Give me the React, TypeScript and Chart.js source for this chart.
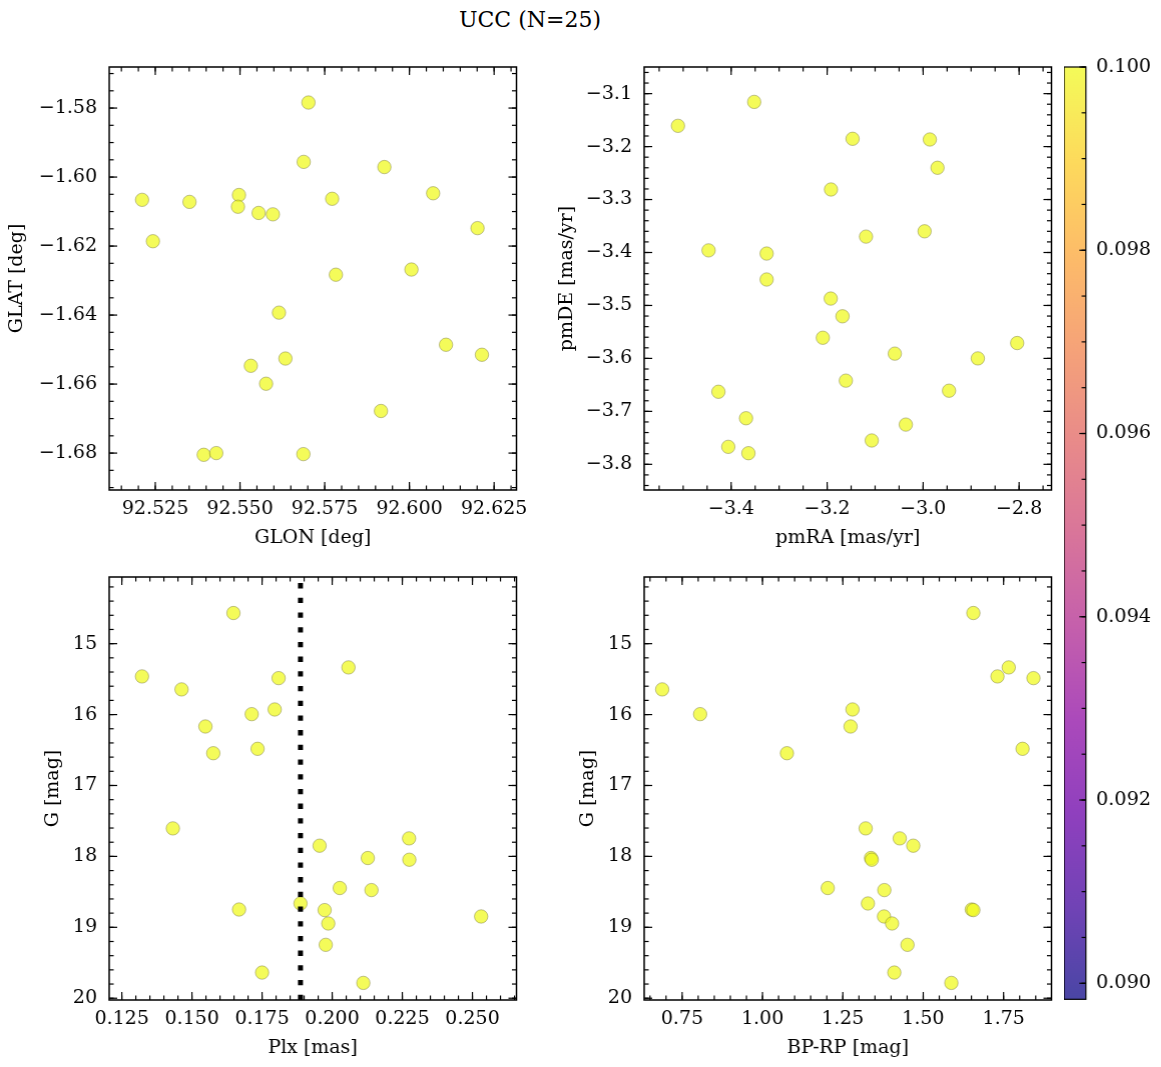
import React, { useEffect, useRef } from "react";
import { Chart, registerables } from "chart.js";

Chart.register(...registerables);

// ---------------- data ----------------
const glon = [92.5702, 92.5688, 92.5926, 92.5211, 92.5351, 92.5497, 92.5494, 92.5555, 92.5597, 92.5772, 92.607, 92.6201, 92.5243, 92.5783, 92.6006, 92.5615, 92.6108, 92.6214, 92.5634, 92.5532, 92.5577, 92.5916, 92.5393, 92.543, 92.5687];
const glat = [-1.5784, -1.5956, -1.5971, -1.6066, -1.6072, -1.6052, -1.6086, -1.6104, -1.6108, -1.6063, -1.6047, -1.6148, -1.6186, -1.6283, -1.6268, -1.6393, -1.6486, -1.6515, -1.6526, -1.6547, -1.6599, -1.6678, -1.6805, -1.68, -1.6803];

const pmra = [-3.5108, -3.352, -3.147, -2.986, -2.97, -3.192, -3.119, -2.997, -3.447, -3.326, -3.326, -3.1925, -3.168, -3.209, -3.059, -2.804, -2.886, -3.161, -2.946, -3.4265, -3.369, -3.036, -3.107, -3.406, -3.364];
const pmde = [-3.1608, -3.1156, -3.1853, -3.1866, -3.24, -3.281, -3.37, -3.36, -3.396, -3.402, -3.451, -3.487, -3.5205, -3.561, -3.591, -3.571, -3.6, -3.642, -3.661, -3.663, -3.713, -3.725, -3.755, -3.767, -3.779];

const gmag = [14.568, 15.335, 15.462, 15.486, 15.645, 15.994, 15.928, 16.168, 16.483, 16.545, 17.605, 17.746, 17.849, 18.023, 18.047, 18.446, 18.475, 18.664, 18.749, 18.757, 18.847, 18.946, 19.247, 19.638, 19.784];
const plx = [0.1648, 0.2058, 0.1322, 0.1809, 0.1463, 0.1713, 0.1795, 0.1548, 0.1734, 0.1576, 0.1432, 0.2274, 0.1955, 0.2127, 0.2275, 0.2027, 0.214, 0.1887, 0.1668, 0.1973, 0.2531, 0.1986, 0.1977, 0.175, 0.2111];
const bprp = [1.656, 1.766, 1.731, 1.843, 0.688, 0.806, 1.28, 1.274, 1.809, 1.076, 1.321, 1.427, 1.469, 1.3375, 1.34, 1.203, 1.379, 1.328, 1.651, 1.656, 1.378, 1.403, 1.451, 1.41, 1.5875];

const plxLine = 0.1887;

// tick values and labels
const glonTicks = [92.525, 92.55, 92.575, 92.6, 92.625];
const glonLabels = ["92.525", "92.550", "92.575", "92.600", "92.625"];
const glatTicks = [-1.58, -1.6, -1.62, -1.64, -1.66, -1.68];
const glatLabels = ["\u22121.58", "\u22121.60", "\u22121.62", "\u22121.64", "\u22121.66", "\u22121.68"];
const pmraTicks = [-3.4, -3.2, -3.0, -2.8];
const pmraLabels = ["\u22123.4", "\u22123.2", "\u22123.0", "\u22122.8"];
const pmdeTicks = [-3.1, -3.2, -3.3, -3.4, -3.5, -3.6, -3.7, -3.8];
const pmdeLabels = ["\u22123.1", "\u22123.2", "\u22123.3", "\u22123.4", "\u22123.5", "\u22123.6", "\u22123.7", "\u22123.8"];
const plxTicks = [0.125, 0.15, 0.175, 0.2, 0.225, 0.25];
const plxLabels = ["0.125", "0.150", "0.175", "0.200", "0.225", "0.250"];
const gTicks = [15, 16, 17, 18, 19, 20];
const gLabels = ["15", "16", "17", "18", "19", "20"];
const bprpTicks = [0.75, 1.0, 1.25, 1.5, 1.75];
const bprpLabels = ["0.75", "1.00", "1.25", "1.50", "1.75"];
const cbarTicks = [0.09, 0.092, 0.094, 0.096, 0.098, 0.1];
const cbarLabels = ["0.090", "0.092", "0.094", "0.096", "0.098", "0.100"];

// plasma colormap stops
const plasma = ["#0d0887", "#41049d", "#6a00a8", "#8f0da4", "#b12a90", "#cc4778", "#e16462", "#f2844b", "#fca636", "#fcce25", "#f0f921"];

// ---------------- style ----------------
const FONT = "'DejaVu Serif', 'Liberation Serif', serif";
const FS = 19;
const PAD_T = 30;
const PAD_R = 30;
const X_AXIS_H = 60;
const POINT_FILL = "rgba(240,249,33,0.75)";
const POINT_EDGE = "rgba(110,110,60,0.55)";

Chart.defaults.font.family = FONT;
Chart.defaults.font.size = FS;
Chart.defaults.color = "#000";

const frameTicks = {
  id: "frameTicks",
  afterDraw(chart: any, _args: any, opts: any) {
    const { ctx, chartArea: a, scales } = chart;
    const xs = scales.x;
    const ys = scales.y;
    const majorLen = opts.majorLen ?? 8;
    const minorLen = opts.minorLen ?? 4.5;
    ctx.save();
    ctx.strokeStyle = "#000";
    ctx.lineWidth = opts.tickWidth ?? 1.2;
    const seg = (x1: number, y1: number, x2: number, y2: number) => {
      ctx.beginPath();
      ctx.moveTo(x1, y1);
      ctx.lineTo(x2, y2);
      ctx.stroke();
    };
    const minorVals = (min: number, max: number, step: number) => {
      const out: number[] = [];
      if (!step) return out;
      const lo = Math.min(min, max);
      const hi = Math.max(min, max);
      for (let k = Math.ceil(lo / step - 1e-9); k * step <= hi + 1e-12; k++) out.push(k * step);
      return out;
    };
    const xSides: string[] = opts.xSides ?? ["top", "bottom"];
    const ySides: string[] = opts.ySides ?? ["left", "right"];
    const drawX = (v: number, len: number) => {
      const p = xs.getPixelForValue(v);
      if (p < a.left - 0.5 || p > a.right + 0.5) return;
      if (xSides.includes("bottom")) seg(p, a.bottom, p, a.bottom - len);
      if (xSides.includes("top")) seg(p, a.top, p, a.top + len);
    };
    const drawY = (v: number, len: number) => {
      const p = ys.getPixelForValue(v);
      if (p < a.top - 0.5 || p > a.bottom + 0.5) return;
      if (ySides.includes("left")) seg(a.left, p, a.left + len, p);
      if (ySides.includes("right")) seg(a.right, p, a.right - len, p);
    };
    if (opts.xMajor) {
      minorVals(xs.min, xs.max, opts.xMinor).forEach((v) => drawX(v, minorLen));
      opts.xMajor.forEach((v: number) => drawX(v, majorLen));
    }
    if (opts.yMajor) {
      minorVals(ys.min, ys.max, opts.yMinor).forEach((v) => drawY(v, minorLen));
      opts.yMajor.forEach((v: number) => drawY(v, majorLen));
    }
    ctx.lineWidth = opts.frameWidth ?? 1.5;
    ctx.strokeRect(a.left, a.top, a.right - a.left, a.bottom - a.top);
    ctx.restore();
  },
};

const cbarFill = {
  id: "cbarFill",
  beforeDatasetsDraw(chart: any) {
    const { ctx, chartArea: a } = chart;
    const g = ctx.createLinearGradient(0, a.bottom, 0, a.top);
    plasma.forEach((c, i) => g.addColorStop(i / (plasma.length - 1), c));
    ctx.save();
    ctx.globalAlpha = 0.75;
    ctx.fillStyle = g;
    ctx.fillRect(a.left, a.top, a.right - a.left, a.bottom - a.top);
    ctx.restore();
  },
};

type PanelProps = {
  xs: number[];
  ys: number[];
  xMin: number;
  xMax: number;
  yMin: number;
  yMax: number;
  xTicks: number[];
  xLabels: string[];
  yTicks: number[];
  yLabels: string[];
  xMinor: number;
  yMinor: number;
  reverseY?: boolean;
  xTitle: string;
  yTitle: string;
  yTitlePad: number;
  left: number;
  top: number;
  width: number;
  height: number;
  yAxisW: number;
  vline?: number;
};

function Panel(p: PanelProps) {
  const ref = useRef<HTMLCanvasElement | null>(null);
  useEffect(() => {
    if (!ref.current) return;
    const datasets: any[] = [];
    if (p.vline !== undefined) {
      datasets.push({
        data: [
          { x: p.vline, y: p.yMax },
          { x: p.vline, y: p.yMin },
        ],
        showLine: true,
        pointRadius: 0,
        borderColor: "#000",
        borderWidth: 5,
        borderDash: [5.3, 9.4],
        borderCapStyle: "butt",
      });
    }
    datasets.push({
      data: p.xs.map((x, i) => ({ x, y: p.ys[i] })),
      pointRadius: 6.7,
      backgroundColor: POINT_FILL,
      borderColor: POINT_EDGE,
      borderWidth: 0.8,
    });
    const chart = new Chart(ref.current, {
      type: "scatter",
      data: { datasets },
      options: {
        animation: false,
        responsive: true,
        maintainAspectRatio: false,
        events: [],
        layout: { padding: { left: 0, top: PAD_T, right: PAD_R, bottom: 0 } },
        plugins: {
          legend: { display: false },
          tooltip: { enabled: false },
          frameTicks: { xMajor: p.xTicks, xMinor: p.xMinor, yMajor: p.yTicks, yMinor: p.yMinor },
        } as any,
        scales: {
          x: {
            type: "linear",
            min: p.xMin,
            max: p.xMax,
            grid: { display: false, drawTicks: false },
            border: { display: false },
            ticks: {
              autoSkip: false,
              maxRotation: 0,
              minRotation: 0,
              padding: 8,
              color: "#000",
              font: { family: FONT, size: FS },
              callback: (_v: any, i: number) => p.xLabels[i],
            },
            afterBuildTicks: (s: any) => {
              s.ticks = p.xTicks.map((v) => ({ value: v }));
            },
            afterFit: (s: any) => {
              s.height = X_AXIS_H;
            },
            title: {
              display: true,
              text: p.xTitle,
              color: "#000",
              font: { family: FONT, size: FS },
              padding: { top: 0, bottom: 1 },
            },
          },
          y: {
            type: "linear",
            min: p.yMin,
            max: p.yMax,
            reverse: !!p.reverseY,
            grid: { display: false, drawTicks: false },
            border: { display: false },
            ticks: {
              autoSkip: false,
              padding: 12,
              color: "#000",
              font: { family: FONT, size: FS },
              callback: (_v: any, i: number) => p.yLabels[i],
            },
            afterBuildTicks: (s: any) => {
              s.ticks = p.yTicks.map((v) => ({ value: v }));
            },
            afterFit: (s: any) => {
              s.width = p.yAxisW;
            },
            title: {
              display: true,
              text: p.yTitle,
              color: "#000",
              font: { family: FONT, size: FS },
              padding: { top: p.yTitlePad, bottom: 0 },
            },
          },
        },
      },
      plugins: [frameTicks],
    });
    return () => chart.destroy();
  }, []);
  const cw = p.yAxisW + p.width + PAD_R;
  const ch = PAD_T + p.height + X_AXIS_H;
  return (
    <div
      style={{
        position: "absolute",
        left: p.left - p.yAxisW,
        top: p.top - PAD_T,
        width: cw,
        height: ch,
      }}
    >
      <canvas ref={ref} />
    </div>
  );
}

function Colorbar() {
  const ref = useRef<HTMLCanvasElement | null>(null);
  const left = 1064;
  const top = 66.7;
  const barW = 21.7;
  const barH = 932.3;
  const padV = 28;
  const axisW = 75;
  useEffect(() => {
    if (!ref.current) return;
    const chart = new Chart(ref.current, {
      type: "scatter",
      data: { datasets: [] },
      options: {
        animation: false,
        responsive: true,
        maintainAspectRatio: false,
        events: [],
        layout: { padding: { left: 0, top: padV, right: 0, bottom: padV } },
        plugins: {
          legend: { display: false },
          tooltip: { enabled: false },
          frameTicks: {
            yMajor: cbarTicks,
            yMinor: 0.0005,
            ySides: ["right"],
            majorLen: 6.5,
            minorLen: 4.2,
            frameWidth: 1.2,
          },
        } as any,
        scales: {
          x: { type: "linear", display: false, min: 0, max: 1 },
          y: {
            type: "linear",
            position: "right",
            min: 0.089825,
            max: 0.1,
            grid: { display: false, drawTicks: false },
            border: { display: false },
            ticks: {
              autoSkip: false,
              padding: 10,
              color: "#000",
              font: { family: FONT, size: FS },
              callback: (_v: any, i: number) => cbarLabels[i],
            },
            afterBuildTicks: (s: any) => {
              s.ticks = cbarTicks.map((v) => ({ value: v }));
            },
            afterFit: (s: any) => {
              s.width = axisW;
            },
          },
        },
      },
      plugins: [cbarFill, frameTicks],
    });
    return () => chart.destroy();
  }, []);
  return (
    <div
      style={{
        position: "absolute",
        left,
        top: top - padV,
        width: barW + axisW,
        height: barH + 2 * padV,
      }}
    >
      <canvas ref={ref} />
    </div>
  );
}

export default function App() {
  const W = 406.5;
  const H = 423;
  return (
    <div
      style={{
        position: "absolute",
        left: 0,
        top: 0,
        width: 1161,
        height: 1067,
        overflow: "hidden",
        background: "#fff",
      }}
    >
      <div
        style={{
          position: "absolute",
          left: 0,
          top: 9,
          width: 1060,
          textAlign: "center",
          fontFamily: FONT,
          fontSize: 22,
          lineHeight: "22px",
          color: "#000",
        }}
      >
        UCC (N=25)
      </div>
      <Panel
        xs={glon}
        ys={glat}
        xMin={92.5114}
        xMax={92.6316}
        yMin={-1.6907}
        yMax={-1.5681}
        xTicks={glonTicks}
        xLabels={glonLabels}
        yTicks={glatTicks}
        yLabels={glatLabels}
        xMinor={0.005}
        yMinor={0.005}
        xTitle="GLON [deg]"
        yTitle="GLAT [deg]"
        yTitlePad={5.6}
        left={109}
        top={67}
        width={W}
        height={H}
        yAxisW={109}
      />
      <Panel
        xs={pmra}
        ys={pmde}
        xMin={-3.5812}
        xMax={-2.7325}
        yMin={-3.8485}
        yMax={-3.0497}
        xTicks={pmraTicks}
        xLabels={pmraLabels}
        yTicks={pmdeTicks}
        yLabels={pmdeLabels}
        xMinor={0.05}
        yMinor={0.02}
        xTitle="pmRA [mas/yr]"
        yTitle="pmDE [mas/yr]"
        yTitlePad={11.6}
        left={644}
        top={67}
        width={W}
        height={H}
        yAxisW={100}
      />
      <Panel
        xs={plx}
        ys={gmag}
        xMin={0.1205}
        xMax={0.2657}
        yMin={14.06}
        yMax={20.025}
        reverseY
        xTicks={plxTicks}
        xLabels={plxLabels}
        yTicks={gTicks}
        yLabels={gLabels}
        xMinor={0.005}
        yMinor={0.2}
        xTitle="Plx [mas]"
        yTitle="G [mag]"
        yTitlePad={32.6}
        left={109}
        top={577}
        width={W}
        height={H}
        yAxisW={100}
        vline={plxLine}
      />
      <Panel
        xs={bprp}
        ys={gmag}
        xMin={0.632}
        xMax={1.899}
        yMin={14.06}
        yMax={20.025}
        reverseY
        xTicks={bprpTicks}
        xLabels={bprpLabels}
        yTicks={gTicks}
        yLabels={gLabels}
        xMinor={0.05}
        yMinor={0.2}
        xTitle="BP-RP [mag]"
        yTitle="G [mag]"
        yTitlePad={32.6}
        left={644}
        top={577}
        width={W}
        height={H}
        yAxisW={100}
      />
      <Colorbar />
    </div>
  );
}
